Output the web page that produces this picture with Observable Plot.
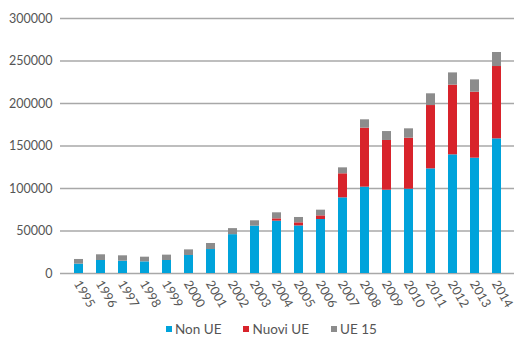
<!DOCTYPE html>
<html>
<head>
<meta charset="utf-8">
<script src="https://cdn.jsdelivr.net/npm/d3@7"></script>
<script src="https://cdn.jsdelivr.net/npm/@observablehq/plot@0.6"></script>
<style>
  html, body { margin: 0; padding: 0; background: #fff; }
  body { width: 514px; height: 338px; position: relative; overflow: hidden; font-family: Lato, "Open Sans", sans-serif; }
  #legend { position: absolute; left: 166px; top: 321px; display: flex; align-items: center; font-size: 13.5px; color: #555; }
  #legend .item { display: flex; align-items: center; margin-right: 22px; }
  #legend .sw { width: 6px; height: 6px; margin-right: 3px; }
</style>
</head>
<body>
<div id="chart"></div>
<div id="legend"></div>
<script>
const years = ["1995","1996","1997","1998","1999","2000","2001","2002","2003","2004","2005","2006","2007","2008","2009","2010","2011","2012","2013","2014"];
const seriesNames = ["Non UE", "Nuovi UE", "UE 15"];
const nonUE   = [11000,15300,14500,13700,15300,21200,28200,45700,55700,61600,56000,63500,89000,101600,98000,99200,123100,139600,135700,158400];
const nuoviUE = [0,0,0,0,0,0,0,0,0,2700,3600,4300,28300,69400,58500,60000,74500,82000,77600,85100];
const ue15    = [5500,6700,6300,5500,6300,6600,7100,7100,6300,7100,6300,6700,7000,9800,10500,11000,13800,14400,14500,16500];
const colors = ["#00a3db", "#d8232b", "#8c8c8c"];
const yTicks = [0, 50000, 100000, 150000, 200000, 250000, 300000];

const seriesValues = [nonUE, nuoviUE, ue15];
const data = [];
years.forEach((y, i) => {
  seriesNames.forEach((s, j) => data.push({year: y, series: s, value: seriesValues[j][i]}));
});

const chart = Plot.plot({
  width: 514,
  height: 318,
  marginLeft: 60,
  marginRight: 0,
  marginTop: 18,
  marginBottom: 45,
  style: {fontFamily: "Lato, 'Open Sans', sans-serif", fontSize: "12px", color: "#555"},
  x: {domain: years, paddingInner: 0.6, paddingOuter: 0.3, label: null},
  y: {domain: [0, 300000], label: null},
  color: {domain: seriesNames, range: colors},
  marks: [
    Plot.ruleY(yTicks, {stroke: "#a8a8a8", strokeWidth: 1.4}),
    Plot.barY(data, {x: "year", y: "value", fill: "series", order: seriesNames}),
    Plot.axisY({ticks: yTicks, tickFormat: d => String(d), tickSize: 0, tickPadding: 8, label: null, fontSize: 12.5}),
    Plot.axisX({tickSize: 0, tickPadding: 8, tickRotate: 60, dx: -2, label: null, fontSize: 12.5})
  ]
});
document.getElementById("chart").appendChild(chart);

const legend = document.getElementById("legend");
seriesNames.forEach((s, j) => {
  const item = document.createElement("div");
  item.className = "item";
  const sw = document.createElement("span");
  sw.className = "sw";
  sw.style.background = colors[j];
  const t = document.createElement("span");
  t.textContent = s;
  item.appendChild(sw);
  item.appendChild(t);
  legend.appendChild(item);
});
</script>
</body>
</html>
